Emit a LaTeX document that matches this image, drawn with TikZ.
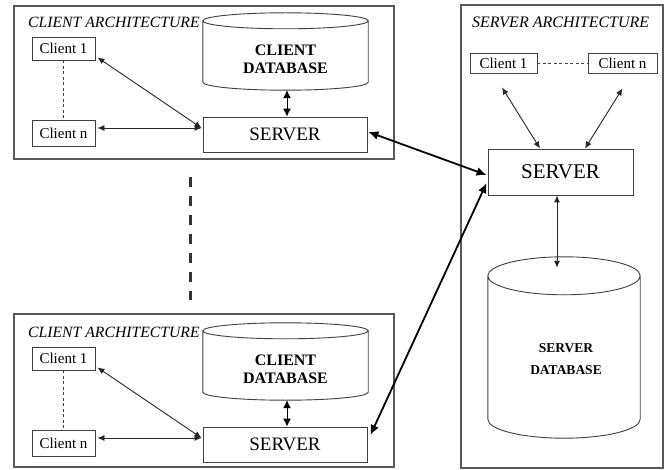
\documentclass[tikz,border=0pt]{standalone}
\usepackage{fontspec}
\setmainfont{Liberation Serif}
\usetikzlibrary{arrows.meta,calc}
\newcommand\drawcyl[2]{%
  \draw[cyl] let \p1=(#1.north west), \p2=(#1.south east), \n1={(\x2-\x1)/2} in
    ($(#1.north)+(0,#2)$) ellipse [x radius=\n1, y radius=#2pt]
    ($(#1.north west)+(0,#2)$) -- ($(#1.south west)+(0,-#2)$)
    arc [start angle=180, end angle=360, x radius=\n1, y radius=#2pt]
    -- ($(#1.north east)+(0,#2)$);%
}
\begin{document}
\begin{tikzpicture}[x=1pt,y=-1pt,
  frame/.style={draw=black!65, line width=1.2pt, inner sep=0pt},
  region/.style={inner sep=0pt},
  boxed/.style={draw=black!75, line width=0.9pt, inner sep=0pt, font=\fontsize{15}{17}\selectfont},
  srvbox/.style={draw=black!75, line width=0.9pt, inner sep=0pt, font=\fontsize{19}{21}\selectfont},
  titletext/.style={font=\fontsize{15.7}{17}\selectfont\itshape, inner sep=0pt, anchor=west},
  dbtext/.style={font=\fontsize{16}{18}\selectfont\bfseries, align=center, inner sep=0pt},
  cyl/.style={draw=black!75, line width=0.9pt},
  thinarrow/.style={draw=black!85, line width=0.9pt, {Latex[length=7pt,width=6pt]}-{Latex[length=7pt,width=6pt]}},
  dbarrow/.style={draw=black, line width=1pt, {Latex[length=8pt,width=8pt]}-{Latex[length=8pt,width=8pt]}},
  bigarrow/.style={draw=black, line width=1.8pt, {Latex[length=10pt,width=9pt]}-{Latex[length=10pt,width=9pt]}},
  smalldash/.style={draw=black!75, line width=0.8pt, dash pattern=on 3pt off 2.5pt}
]
\useasboundingbox[fill=white] (0,0) rectangle (669,470);

% ---------- top client architecture ----------
\node[frame, minimum width=380pt, minimum height=153pt] (f1) at (204,82.5) {};
\node[titletext] (t1) at (28,22) {CLIENT ARCHITECTURE};
\node[boxed, minimum width=63pt, minimum height=23pt] (cl1) at (63.5,48.5) {Client 1};
\node[boxed, minimum width=63pt, minimum height=26pt] (cn1) at (63.5,133) {Client n};
\node[srvbox, minimum width=164pt, minimum height=35pt] (srv1) at (285,134.5) {SERVER};
\node[region, minimum width=165pt, minimum height=77pt] (cdb1) at (285.5,51.5) {};
\drawcyl{cdb1}{8}
\node[dbtext] (cdb1t) at (285.5,59) {CLIENT\\DATABASE};
\draw[smalldash] (cl1.south) -- (cn1.north);
\draw[thinarrow] ($(cl1.south east)+(2,-3)$) -- ($(srv1.west)+(-1,-6.5)$);
\draw[thinarrow] ($(cn1.east)+(2,-5)$) -- ($(srv1.west)+(-1,-6.5)$);
\draw[dbarrow] ($(cdb1.south)+(1.5,0)$) -- ($(srv1.north)+(2,0)$);

% ---------- bottom client architecture ----------
\node[frame, minimum width=380pt, minimum height=153pt] (f2) at (204,390.5) {};
\node[titletext] (t2) at (28,332) {CLIENT ARCHITECTURE};
\node[boxed, minimum width=63pt, minimum height=23pt] (cl2) at (63.5,358.5) {Client 1};
\node[boxed, minimum width=63pt, minimum height=26pt] (cn2) at (63.5,443) {Client n};
\node[srvbox, minimum width=164pt, minimum height=35pt] (srv2) at (285,444.5) {SERVER};
\node[region, minimum width=165pt, minimum height=77pt] (cdb2) at (285.5,361.5) {};
\drawcyl{cdb2}{8}
\node[dbtext] (cdb2t) at (285.5,369) {CLIENT\\DATABASE};
\draw[smalldash] (cl2.south) -- (cn2.north);
\draw[thinarrow] ($(cl2.south east)+(2,-3)$) -- ($(srv2.west)+(-1,-6.5)$);
\draw[thinarrow] ($(cn2.east)+(2,-5)$) -- ($(srv2.west)+(-1,-6.5)$);
\draw[dbarrow] ($(cdb2.south)+(1.5,0)$) -- ($(srv2.north)+(2,0)$);

% ---------- vertical ellipsis ----------
\coordinate (d1) at (190.5,177);
\coordinate (d2) at (190.5,300);
\draw[black!80, line width=2.5pt, dash pattern=on 10pt off 9pt] (d1) -- (d2);

% ---------- server architecture ----------
\node[frame, minimum width=202pt, minimum height=463pt] (f3) at (562,236.5) {};
\node[titletext, font=\fontsize{16}{17}\selectfont\itshape] (t3) at (472,22) {SERVER ARCHITECTURE};
\node[boxed, minimum width=67pt, minimum height=20pt] (sc1) at (503.5,63) {Client 1};
\node[boxed, minimum width=69pt, minimum height=20pt] (scn) at (622.5,63) {Client n};
\draw[smalldash] (sc1.east) -- (scn.west);
\node[srvbox, font=\fontsize{21}{23}\selectfont, minimum width=145pt, minimum height=46pt] (ms) at (560.5,172) {SERVER};
\node[region, minimum width=152pt, minimum height=181pt] (sdb) at (564,347.5) {};
\drawcyl{sdb}{19}
\node[dbtext, font=\fontsize{13.5}{22}\selectfont\bfseries] (sdbt) at (566,359) {SERVER\\DATABASE};
\draw[thinarrow] ($(sc1.south)+(-1.5,14)$) -- ($(ms.north)+(-20.5,0)$);
\draw[thinarrow] ($(scn.south)+(0,15)$) -- ($(ms.north)+(24.5,0)$);
\draw[thinarrow] ($(ms.south)+(-3.5,0)$) -- ($(sdb.north)+(-7,11)$);

% ---------- links between architectures ----------
\draw[bigarrow] ($(srv1.east)+(1,-2.5)$) -- ($(ms.west)+(-1,3)$);
\draw[bigarrow] ($(ms.west)+(-1,11)$) -- ($(srv2.east)+(3,-9.5)$);
\end{tikzpicture}
\end{document}
